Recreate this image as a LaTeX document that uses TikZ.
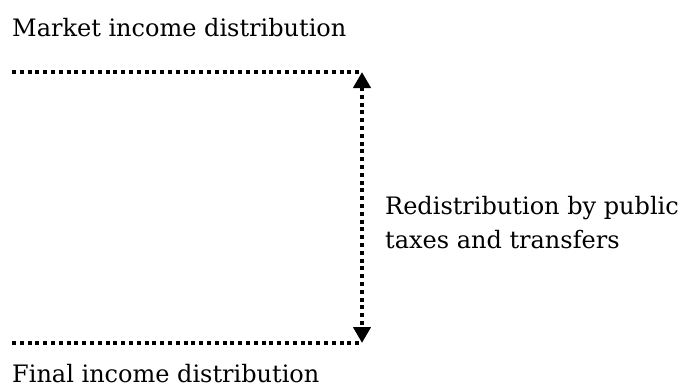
\documentclass[tikz,border=0pt]{standalone}
\usepackage{fontspec}
\setmainfont{DejaVu Serif}
\usetikzlibrary{arrows.meta}
\tikzset{
  lbl/.style={anchor=base west, inner sep=0pt, font=\fontsize{24}{34}\selectfont, align=left},
  dotline/.style={line width=4pt, dash pattern=on 4pt off 3.8pt},
  >={Triangle[width=17pt,length=16pt]}
}
\begin{document}
\begin{tikzpicture}[x=1pt,y=-1pt]
\useasboundingbox (0,0) rectangle (683,389);
\node[lbl] (market) at (12,36) {Market income distribution};
\node[lbl] (final) at (12,382) {Final income distribution};
\node[lbl] (redis) at (385,248) {Redistribution by public\\taxes and transfers};
\coordinate (tl) at (12,72);
\coordinate (tr) at (362,72);
\coordinate (bl) at (12,343);
\coordinate (br) at (362,343);
\draw[dotline] (tl) -- (tr);
\draw[dotline] (bl) -- (br);
\draw[dotline, <->] (tr) -- (br);
\end{tikzpicture}
\end{document}
